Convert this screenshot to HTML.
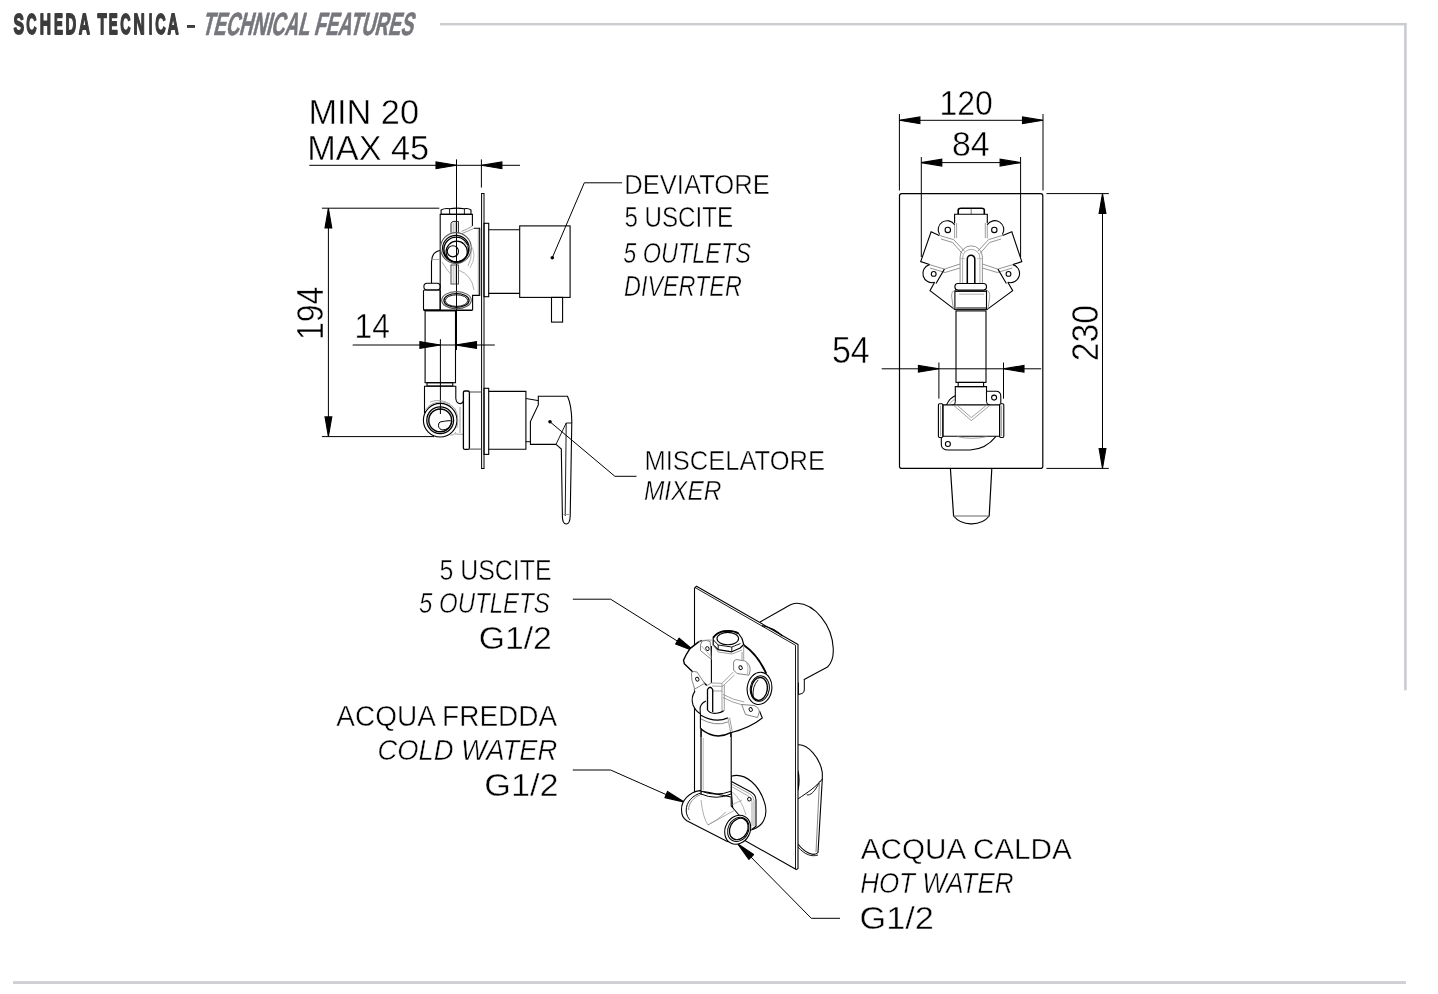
<!DOCTYPE html>
<html><head><meta charset="utf-8"><title>Scheda Tecnica</title>
<style>html,body{margin:0;padding:0;background:#fff;} svg{display:block;} svg{will-change:transform;}</style></head>
<body><svg width="1438" height="994" viewBox="0 0 1438 994" font-family="Liberation Sans, sans-serif">
<rect width="1438" height="994" fill="#fff"/>
<rect x="440" y="23" width="966.5" height="2.4" fill="#cbccd0"/>
<rect x="1404.1" y="23" width="2.6" height="667.3" fill="#cbccd0"/>
<rect x="13" y="981.1" width="1392.9" height="2.9" fill="#cfd0d4"/>
<rect x="187" y="25" width="8" height="2.9" fill="#3c3c3c"/>
<g fill="none" stroke="#000" stroke-width="1.1">
<line x1="309.3" y1="165.3" x2="520" y2="165.3" stroke="#000" stroke-width="1.0"/>
<path d="M456.5,165.3 L436.0,161.9 L436.0,168.7 Z" fill="#000"/>
<path d="M481.4,165.3 L501.9,168.7 L501.9,161.9 Z" fill="#000"/>
<line x1="456.5" y1="159.4" x2="456.5" y2="350" stroke="#000" stroke-width="1.0"/>
<line x1="481.4" y1="159.4" x2="481.4" y2="187.6" stroke="#000" stroke-width="1.0"/>
<line x1="328.4" y1="208.3" x2="328.4" y2="436.5" stroke="#000" stroke-width="1.0"/>
<path d="M328.4,208.3 L325.0,227.9 L331.8,227.9 Z" fill="#000"/>
<path d="M328.4,436.5 L331.8,416.9 L325.0,416.9 Z" fill="#000"/>
<line x1="321.9" y1="208.2" x2="439.3" y2="208.2" stroke="#000" stroke-width="1.0"/>
<line x1="321.9" y1="436.6" x2="434" y2="436.6" stroke="#000" stroke-width="1.0"/>
<line x1="352.7" y1="345" x2="494.8" y2="345" stroke="#000" stroke-width="1.0"/>
<path d="M440.4,345.0 L419.9,341.6 L419.9,348.4 Z" fill="#000"/>
<path d="M455.5,345.0 L476.5,348.4 L476.5,341.6 Z" fill="#000"/>
<line x1="440.4" y1="339.2" x2="440.4" y2="414" stroke="#000" stroke-width="1.0"/>
<rect x="481.6" y="193.5" width="2.4" height="275" stroke-width="1"/>
<path d="M441.1,214.4 L441.1,210 Q445,207.8 449.6,208.8 Q456.5,207.4 464.4,208.8 Q468,207.8 471,210 L471,214.4 Z"/>
<path d="M449.6,208.8 L449.6,214.4 M464.4,208.8 L464.4,214.4" stroke-width="0.9"/>
<path d="M440.2,310 L440.2,214.4 L472.4,214.4 L472.4,226"/>
<path d="M472.4,226 Q468,229 461.6,231.4 M474,228.3 Q466,232 462,233.5" stroke="#888" stroke-width="0.8"/>
<path d="M474,228.3 L479.7,228.3 L479.7,295.4 L472.6,295.4 L472.6,310"/>
<path d="M478.3,229 L478.3,295" stroke="#888" stroke-width="0.8"/>
<circle cx="455.9" cy="248" r="15.4" stroke="#555"/>
<circle cx="455.9" cy="248.6" r="13.3" stroke-width="1.2"/>
<circle cx="456.2" cy="249.4" r="12.3" stroke-width="1.3"/>
<circle cx="456.7" cy="251.8" r="10.6" stroke-width="1.2"/>
<circle cx="452.9" cy="251.3" r="5.6" stroke-width="1.1"/>
<path d="M464,242 Q476,250 468,266" stroke="#999" stroke-width="0.8"/>
<path d="M470,244 Q478,254 470,268" stroke="#aaa" stroke-width="0.8"/>
<path d="M451,232.6 L451,223.5 Q451.5,221.4 454,221.4 L458.4,221.4 L458.4,232.6" stroke="#222" stroke-width="1"/>
<path d="M453.2,223 L453.2,232 M455.2,222 L455.2,232" stroke="#999" stroke-width="0.8"/>
<rect x="451" y="265" width="7.4" height="19" stroke="#333" stroke-width="0.9"/>
<path d="M453.2,266 L453.2,283 M455.2,266 L455.2,283" stroke="#aaa" stroke-width="0.8"/>
<path d="M458.4,270 Q472,275 474,290" stroke="#999" stroke-width="0.8"/>
<path d="M442,262 Q448,272 451,274" stroke="#999" stroke-width="0.8"/>
<ellipse cx="456.5" cy="300.2" rx="14.8" ry="8.6" stroke="#555"/>
<ellipse cx="456.5" cy="300.4" rx="12.6" ry="6.9" stroke-width="1.2"/>
<ellipse cx="456.5" cy="300.6" rx="11.2" ry="5.8" stroke-width="0.9"/>
<path d="M440,250.5 Q431.5,252 431.5,262 L431.5,283.3"/>
<path d="M431.5,259.5 L440,259.5" stroke="#999" stroke-width="0.8"/>
<rect x="423.9" y="283.3" width="16.3" height="6.7" rx="3.2"/>
<rect x="423.5" y="290" width="16.7" height="20" rx="1"/>
<path d="M423.5,310.2 L472.6,310.2" stroke-width="1.4"/>
<rect x="425.1" y="310.9" width="30.4" height="71.8"/>
<rect x="427" y="382.7" width="25.8" height="3.3"/>
<path d="M424.5,413 L424.5,386.2 L455.8,386.2 L455.8,398.5 Q456.5,403.8 460.4,403.6 Q463.2,403.2 463.4,400.5"/>
<circle cx="440.2" cy="420.2" r="16.8"/>
<circle cx="440.2" cy="420.2" r="13.4" stroke-width="1.3"/>
<circle cx="440.2" cy="420.4" r="11.4" stroke-width="1.4"/>
<path d="M425,410 A19,19 0 0 1 456,410" stroke="#999" stroke-width="0.8"/>
<path d="M440,422 Q450,420 452,421 Q450,430 442,430 Q437,428 439,423 Z" stroke-width="1"/>
<path d="M430,402 Q440,398 450,404 M452,406 Q460,412 457,428 M456,432 Q454,436 450,435" stroke="#999" stroke-width="0.8"/>
<path d="M455,434 L463.4,434.4 M460,407 L460,433" stroke="#888" stroke-width="0.8"/>
<rect x="463.4" y="391" width="6" height="58.4" rx="1.5" stroke-width="1.3"/>
<path d="M469.4,392 L481.6,392 M469.4,449.1 L481.6,449.1" stroke="#444" stroke-width="1"/>
<rect x="484" y="223.3" width="4.7" height="73.4"/>
<path d="M488.7,229.8 L519.7,229.8 M488.7,293.4 L519.7,293.4"/>
<rect x="519.7" y="225.9" width="50.4" height="71.5"/>
<rect x="551.5" y="297.4" width="11.1" height="24.7"/>
<path d="M552.3,257.7 L584.3,182.8 L622,182.8" stroke-width="1"/>
<circle cx="552.3" cy="257.7" r="1.8" fill="#000" stroke="none"/>
<rect x="484" y="388.3" width="4.7" height="66.1"/>
<path d="M488.7,391.4 L525.9,391.4 L525.9,449.2 L488.7,449.2"/>
<path d="M525.9,398.5 L538.3,400.6 M525.9,441.7 L531,441.7" stroke-width="1"/>
<path d="M538.3,396.3 L567.5,396.3 Q571.5,405 571.8,421.5 L570.2,516 C570,521.5 568,524 566.3,524 C564.4,524 562.4,521.5 562.4,516 L561.3,449 Q558,446 556,444.4 L530.4,444.4 L530.4,421.5 L538.3,405 Z"/>
<path d="M556,444.4 L566.2,423 L571.8,423 M566.2,423 L565.2,516" stroke-width="0.9"/>
<path d="M563.5,514.5 L569,514.5" stroke="#888" stroke-width="0.8"/>
<path d="M550,421.8 L614.9,476.3 L636.5,476.3" stroke-width="1"/>
<circle cx="550" cy="421.8" r="1.8" fill="#000" stroke="none"/>
</g>
<g fill="none" stroke="#000" stroke-width="1.1">
<line x1="899.4" y1="120.3" x2="1043" y2="120.3" stroke="#000" stroke-width="1.0"/>
<path d="M899.4,120.3 L919.9,123.7 L919.9,116.9 Z" fill="#000"/>
<path d="M1043.0,120.3 L1022.5,116.9 L1022.5,123.7 Z" fill="#000"/>
<line x1="899.4" y1="114" x2="899.4" y2="190.5" stroke="#000" stroke-width="1.0"/>
<line x1="1043" y1="114" x2="1043" y2="190.5" stroke="#000" stroke-width="1.0"/>
<line x1="921.3" y1="162.6" x2="1020.6" y2="162.6" stroke="#000" stroke-width="1.0"/>
<path d="M921.3,162.6 L941.8,166.0 L941.8,159.2 Z" fill="#000"/>
<path d="M1020.6,162.6 L1000.1,159.2 L1000.1,166.0 Z" fill="#000"/>
<line x1="921.3" y1="157" x2="921.3" y2="257" stroke="#000" stroke-width="1.0"/>
<line x1="1020.6" y1="157" x2="1020.6" y2="257" stroke="#000" stroke-width="1.0"/>
<line x1="1102.5" y1="193.6" x2="1102.5" y2="468.3" stroke="#000" stroke-width="1.0"/>
<path d="M1102.5,193.6 L1099.1,213.4 L1105.9,213.4 Z" fill="#000"/>
<path d="M1102.5,468.3 L1105.9,448.5 L1099.1,448.5 Z" fill="#000"/>
<line x1="1046.5" y1="193.6" x2="1108.8" y2="193.6" stroke="#000" stroke-width="1.0"/>
<line x1="1046.5" y1="468.4" x2="1108.8" y2="468.4" stroke="#000" stroke-width="1.0"/>
<line x1="881.7" y1="368.8" x2="1041.2" y2="368.8" stroke="#000" stroke-width="1.0"/>
<path d="M938.9,368.8 L918.4,365.4 L918.4,372.2 Z" fill="#000"/>
<path d="M1003.5,368.8 L1024.0,372.2 L1024.0,365.4 Z" fill="#000"/>
<line x1="938.9" y1="362.5" x2="938.9" y2="398.7" stroke="#000" stroke-width="1.0"/>
<line x1="1003.5" y1="362.5" x2="1003.5" y2="398.7" stroke="#000" stroke-width="1.0"/>
<rect x="899.5" y="193.6" width="143.3" height="274.8" rx="2.2" stroke-width="1.2"/>
<path d="M950.4,468.5 L953.6,516 Q960,524 971.3,523.8 Q983,524 989.2,516 L991.8,468.5" stroke-width="1.2"/>
<path d="M953.6,516 L989.2,516" stroke="#666" stroke-width="1.2"/>
<path d="M958.2,214.2 L958.2,210 Q958.5,208.3 961,208.3 L981.5,208.3 Q984.3,208.3 984.3,210 L984.3,214.2" stroke-width="1.6"/>
<path d="M971.2,209 L971.2,214.2" stroke="#666" stroke-width="0.9"/>
<path d="M954.6,223 L954.6,214.2 L987.3,214.2 L987.3,223"/>
<path d="M954.6,223 L954.6,238.5 M956.6,223 L956.6,238 M987.3,223 L987.3,238.5 M985.3,223 L985.3,238" stroke="#888" stroke-width="0.8"/>
<path d="M939.6,234.5 A8.5,8.5 0 1 1 954.6,224.8" />
<path d="M987.3,224.8 A8.5,8.5 0 1 1 1002.4,234.5" />
<circle cx="947.8" cy="229.9" r="2.7"/>
<circle cx="994.3" cy="229.9" r="2.7"/>
<path d="M939.2,235.4 L931.1,231.8 L920.7,261.6 L929.5,264.6"/>
<path d="M1002.7,235.4 L1011.8,231.8 L1021.8,261.6 L1012.9,264.6"/>
<path d="M939.2,235.4 L953.6,239.6 L964.7,251.4 M941,239 L952.6,242.5 L962.3,253.5" stroke="#777" stroke-width="0.8"/>
<path d="M1002.7,235.4 L988.6,239.6 L977.7,251.4 M1001,239 L989.6,242.5 L980,253.5" stroke="#777" stroke-width="0.8"/>
<path d="M929.5,264.6 L944.4,269.1 L960,264 M930,268 L945,272.5 L960,268" stroke="#777" stroke-width="0.8"/>
<path d="M1012.9,264.6 L997.9,269.1 L982.4,264 M1012.4,268 L997.4,272.5 L982.4,268" stroke="#777" stroke-width="0.8"/>
<path d="M929.5,264.6 A8,8 0 0 0 934.6,282.3 M944.4,269.1 L936,283.5" />
<path d="M1012.9,264.6 A8,8 0 0 1 1007.8,282.3 M997.9,269.1 L1006.4,283.5" />
<circle cx="933.7" cy="273.9" r="2.4"/>
<circle cx="1008.5" cy="273.9" r="2.4"/>
<path d="M934.6,282.3 L930,290.7 L954.9,309.6"/>
<path d="M1007.8,282.3 L1012.7,290.7 L986.9,309.6"/>
<path d="M960.1,283.5 L960.1,257 A11.15,11.15 0 0 1 982.4,257 L982.4,283.5" stroke="#888" stroke-width="0.9"/>
<path d="M962.6,283.5 L962.6,258 A8.65,8.65 0 0 1 979.9,258 L979.9,283.5" stroke="#999" stroke-width="0.8"/>
<path d="M967.3,283.2 L967.3,259 A3.75,3.75 0 0 1 974.8,259 L974.8,283.2" stroke-width="1.5"/>
<path d="M960,258.6 L965,258.6 M977,258.6 L982.4,258.6" stroke="#aaa" stroke-width="0.7"/>
<rect x="954.9" y="283.5" width="31.6" height="6.6" rx="3"/>
<path d="M954.9,290 L954.9,309.6 M986.5,290 L986.5,309.6" />
<path d="M951.6,296 Q951.6,291 955,290.4 M989.8,296 Q989.8,291 986.5,290.4 M951.6,296 L953.4,309 M989.8,296 L988,309" stroke="#888" stroke-width="0.8"/>
<path d="M955,291.2 L986.5,291.2" stroke-width="1.4"/>
<path d="M959,294.2 L984,294.2" stroke="#999" stroke-width="0.8"/>
<path d="M954.9,309.6 L986.9,309.6 M956.2,308 L986,308" stroke-width="1"/>
<rect x="956" y="310.9" width="30" height="71.5"/>
<rect x="958.2" y="382.4" width="25.4" height="4.2"/>
<path d="M955.3,401.7 L955.3,386.6 L986.5,386.6 L986.5,401.7"/>
<path d="M955.3,401.7 Q955.6,404.9 952.5,404.9 M986.5,401.7 Q986.4,404.9 990.3,404.9" stroke-width="1"/>
<path d="M942.9,404.9 L999.6,404.9 L999.6,436.3 L942.9,436.3 Z"/>
<rect x="938.4" y="403.7" width="4.5" height="33.8" rx="1.2"/>
<rect x="999.6" y="403.7" width="4.2" height="33.8" rx="1.2"/>
<path d="M940.6,405.5 L940.6,436 M1001.6,405.5 L1001.6,436" stroke="#888" stroke-width="0.8"/>
<path d="M946.5,404.9 Q949.5,398 955.3,395.7" />
<path d="M949,404.6 Q951.5,400.5 955.3,399" stroke="#999" stroke-width="0.7"/>
<path d="M953.3,405 L971.3,420.6 L990.3,405 M956.5,404.8 L971.3,417.6 L987,404.8" stroke="#888" stroke-width="0.8"/>
<path d="M986.7,391.3 L996,391.3 Q1000.8,391.3 1000.8,396.5 L1000.8,403.7" />
<circle cx="994.1" cy="397.6" r="2.5"/>
<path d="M941.3,437.5 L941.3,444.4 Q941.5,450 948.5,450 L970.2,450 Q986,449 996,436.3" />
<path d="M957,436.6 Q972,440 987,436.6" stroke="#888" stroke-width="0.8"/>
<circle cx="947.9" cy="444" r="2.5"/>
</g>
<g fill="none" stroke="#000" stroke-width="1.1" stroke-linejoin="round">
<path d="M572.8,599.2 L610.6,599.2 L686,646.5" stroke-width="1"/>
<path d="M694.6,651.2 L679.1,638.1 L675.6,644.0 Z" fill="#000"/>
<path d="M572.8,770 L610.6,770 L675,798.5" stroke-width="1"/>
<path d="M684.6,802.3 L667.5,791.4 L664.9,797.6 Z" fill="#000"/>
<path d="M745,851 L811.3,918.3 L840,918.3" stroke-width="1"/>
<path d="M737.6,843.7 L748.9,859.4 L753.6,854.5 Z" fill="#000"/>
<path d="M760,622.1 L790,605 C792.5,603.7 795,603.2 797,603.3 C815,604 832,625 833.2,648 C833.8,657 831.5,663 827.5,667 L803.7,679.7" fill="#fff"/>
<path d="M798.4,682.5 L798.4,694.5 L802,693.5 Q804.3,692.5 804.3,690 L804.3,680" fill="#fff" stroke-width="1"/>
<path d="M797.9,744.8 C808,744 820,758 822.3,772.3 L822.3,779 L818,852.5 C814,857 805,853 797.9,844" fill="#fff"/>
<path d="M822.3,779 C815,788 808,792 797.9,799" stroke-width="1"/>
<path d="M820,781 C815,792 810,796 806.8,794.8" stroke-width="0.9"/>
<path d="M797.9,847 C805,855 812,857 818,855" stroke-width="0.9"/>
<path d="M819.5,781 L816,852" stroke="#666" stroke-width="0.8"/>
<path d="M797.9,771 Q800,780 797.9,790" stroke-width="1.4"/>
<path d="M694.5,812 L694.5,588.2 L696.5,586.2 L798,644.5 L798,868.5 L796.2,869.6 Z" fill="#fff" stroke-width="1.1"/>
<path d="M695,587.5 L795.5,645.3 L795.5,869" stroke-width="0.9"/>
<path d="M762,625.6 Q773,627.5 782.5,636" stroke-width="1.3"/>
<path d="M731.2,776.2 C745,772 760,785 765.2,805 C768,818 762,826 753.4,829.2 L735,835 L731.2,790 Z" fill="#fff"/>
<path d="M731.5,781.5 L751,792 Q756,795 756,800 L756,826.3 L752,829.2" stroke-width="1.1"/>
<path d="M731.5,784 L750,794 Q754,796.5 754,801 L754,826 M731.5,786.5 L749,796.5 Q752,798.5 752,802.5 L752,826" stroke="#888" stroke-width="0.75"/>
<path d="M732,792 Q741,798 746,815 M732,805 L742,800" stroke="#999" stroke-width="0.75"/>
<circle cx="749.3" cy="799.2" r="1.8" stroke-width="1"/>
<path d="M699.8,790.6 L731.2,797 L731.2,806 L745,822 L727.3,841.6 L686.8,820.7 C684,819 681.5,815 681.5,810 C681,800 690,792 699.8,790.6 Z" fill="#fff"/>
<path d="M701.5,792.8 C693,795 685.8,802 686.2,811 C686.5,815 688,818 690.2,820" stroke-width="1"/>
<path d="M700,795 C694,797 688.5,803 688.6,810" stroke="#777" stroke-width="0.8"/>
<path d="M701,800 Q703,818 708,825 L735,810 M708,825 Q718,820 726,812" stroke="#999" stroke-width="0.8"/>
<ellipse cx="737.7" cy="829.8" rx="12.4" ry="15" transform="rotate(28 737.7 829.8)" fill="#fff" stroke-width="1.1"/>
<ellipse cx="738.3" cy="829.4" rx="10.2" ry="12.6" transform="rotate(28 738.3 829.4)" stroke-width="1"/>
<ellipse cx="738.8" cy="829" rx="8.8" ry="11.2" transform="rotate(28 738.8 829)" stroke-width="1.2"/>
<rect x="701" y="730" width="30.2" height="61.2" fill="#fff" stroke="none"/>
<path d="M701,730 L701,791.2 M731.2,730 L731.2,791.2" stroke-width="1.1"/>
<path d="M703.2,738 L703.2,790.5" stroke="#999" stroke-width="0.7"/>
<path d="M701,791.2 Q716,797 731.2,791.2 M701,794 Q716,800.5 731.2,794 M701,791.2 L701,795 M731.2,791.2 L731.2,795" stroke-width="1"/>
<path d="M690,648.6 L698.6,641.9 Q703,639.8 711.7,640.1 L713.2,637.6 Q718,632 722.8,631.3 Q735,630 740.2,636 L743.7,645 Q758,655 766.3,673.7 L771.9,688 Q771,702 762.3,718 Q750,728 730.7,732.7 Q715.2,741 700.4,728.5 L700.4,713.7 Q690,706 693,699.6 Q693.5,693 694.8,691 L691.3,672.8 L684.3,663.7 L683.5,660.2 Q685.5,655 690,648.6 Z" fill="#fff" stroke="none"/>
<path d="M701.1,728 L701.1,737 M730.7,732 L730.7,737" stroke-width="1"/>
<path d="M702,640.5 L698.6,641.9 L690,648.6 Q685.5,655 683.5,660.2 L684.3,663.7 L706.8,685.5" stroke-width="1.4"/>
<path d="M698.6,641.9 Q703,639.8 711.7,640.1" stroke="#888" stroke-width="0.9"/>
<path d="M743.7,645 Q758,655 766.3,673.7" stroke-width="1.9"/>
<path d="M695.1,691.1 Q690.5,697 693,705 Q695.5,711 700.4,713.7" stroke-width="1.1"/>
<path d="M706,701 Q700,703.5 700.1,709.4 L700.4,715" stroke-width="1.1"/>
<path d="M700.4,715 Q715.2,723.5 727.9,717.9" stroke-width="1.2"/>
<path d="M700.4,718.7 Q715.2,727 727.9,722" stroke="#777" stroke-width="0.9"/>
<path d="M700.4,715 L700.4,728.5" stroke-width="1.1"/>
<path d="M727.9,717.9 L730.7,732.7 M729.6,717.5 L732.3,732.2" stroke="#888" stroke-width="0.8"/>
<path d="M700.4,728.5 Q715.2,741 730.7,732.7" stroke-width="1.5"/>
<path d="M730.7,732.7 Q750,728 762.3,718 L759.5,711" stroke-width="1.1"/>
<path d="M713.2,637.6 Q717,632.5 722.8,631.3 Q733,630 738.5,633.5 L742,638.5 L743.7,644.5 L740.2,648 L731.8,651.8 L718.2,649.6 L713.2,645 Z" fill="#fff" stroke-width="1.2"/>
<path d="M713.2,637.6 Q717,632.5 722.8,631.3 Q733,630 738.5,633.5" stroke-width="1.8"/>
<ellipse cx="727.8" cy="638.6" rx="10.8" ry="6.2" stroke-width="1.1"/>
<path d="M713.5,640 L718.2,645 L731.8,647 L740.5,643.5 M718.2,645 L718.2,649.6 M731.8,647 L731.8,651.8" stroke-width="0.9"/>
<path d="M713.2,645 L718.2,652 L732,654 L742,650" stroke="#888" stroke-width="0.8"/>
<path d="M711.4,646 L711.4,683" stroke-width="1.1"/>
<path d="M743.7,645 L743.7,660 M742,652 L742,661" stroke="#888" stroke-width="0.8"/>
<path d="M711.4,683 L722,683.3 L733.1,672.2 M712,686 L722.5,686.3 L734.5,675 M722,683.3 L722,712.5 M724.3,685 L724.3,711 M723,694.4 Q733,700 744.2,702 M723,697.5 Q733,703 743,705 M712.7,691 L722.3,691" stroke="#888" stroke-width="0.8"/>
<path d="M706.8,685.5 L711.4,683" stroke="#888" stroke-width="0.8"/>
<path d="M707.5,710 L707.5,689.5 Q710.1,685 712.7,689.5 L712.7,712.3" fill="#fff" stroke-width="1.3"/>
<path d="M707.5,710 Q710,714 716.6,713.2 Q721,712.8 723.7,710.8" stroke-width="1.1"/>
<path d="M702.1,641.1 Q706,639.5 710.2,641.6 L711.2,659.2 L700.6,650.7 Q699.5,644 702.1,641.1 Z" fill="#fff" stroke="#777" stroke-width="0.9"/>
<path d="M701.5,646 L710.5,656" stroke="#999" stroke-width="0.7"/>
<ellipse cx="707.4" cy="648.6" rx="1.6" ry="2" transform="rotate(-30 707.4 648.6)" stroke-width="0.9"/>
<path d="M733.6,662 Q734,659.6 737,659.6 L745,661 Q750.2,664 750.2,670 L749,675.2 L737,673.5 L733.6,670 Z" fill="#fff" stroke="#777" stroke-width="0.9"/>
<path d="M746.5,662 Q749,667 747.5,674" stroke="#999" stroke-width="0.7"/>
<ellipse cx="740.6" cy="667.7" rx="1.6" ry="2" transform="rotate(-30 740.6 667.7)" stroke-width="0.9"/>
<path d="M691.3,672.8 Q693,670.5 697,672 L704.6,683.4 L694.8,689 Q691,680 691.3,672.8 Z" fill="#fff" stroke="#777" stroke-width="0.9"/>
<ellipse cx="697.3" cy="679.2" rx="1.6" ry="2" transform="rotate(-30 697.3 679.2)" stroke-width="0.9"/>
<path d="M741.7,704.5 L754,705.5 Q759.3,707.5 759.3,712 L757.5,717.5 L745.5,714.5 Z" fill="#fff" stroke="#777" stroke-width="0.9"/>
<ellipse cx="750.7" cy="709.5" rx="1.6" ry="2" transform="rotate(-30 750.7 709.5)" stroke-width="0.9"/>
<ellipse cx="759.5" cy="688.4" rx="12.3" ry="16.2" transform="rotate(8 759.5 688.4)" fill="#fff" stroke-width="1.1"/>
<ellipse cx="759.8" cy="688.6" rx="9.5" ry="12.8" transform="rotate(8 759.8 688.6)" stroke-width="1"/>
<ellipse cx="759.3" cy="688.9" rx="8" ry="11.5" transform="rotate(8 759.3 688.9)" stroke-width="1.4"/>
<path d="M758.3,679.8 Q752,686 753.2,697.4" stroke-width="0.9"/>
</g>
<text transform="translate(308.39,124.48) scale(0.9639,1)" font-size="35.63" font-weight="normal" font-style="normal" fill="#000" stroke="#fff" stroke-width="0.45" vector-effect="non-scaling-stroke" stroke-linejoin="round">MIN 20</text>
<text transform="translate(307.28,160.17) scale(0.9575,1)" font-size="35.78" font-weight="normal" font-style="normal" fill="#000" stroke="#fff" stroke-width="0.45" vector-effect="non-scaling-stroke" stroke-linejoin="round">MAX 45</text>
<text transform="translate(624.15,193.73) scale(0.9023,1)" font-size="28.41" font-weight="normal" font-style="normal" fill="#000" stroke="#fff" stroke-width="0.45" vector-effect="non-scaling-stroke" stroke-linejoin="round">DEVIATORE</text>
<text transform="translate(624.44,227.19) scale(0.8411,1)" font-size="28.72" font-weight="normal" font-style="normal" fill="#000" stroke="#fff" stroke-width="0.45" vector-effect="non-scaling-stroke" stroke-linejoin="round">5 USCITE</text>
<text transform="translate(623.30,263.30) scale(0.7980,1)" font-size="29.36" font-weight="normal" font-style="italic" fill="#000" stroke="#fff" stroke-width="0.45" vector-effect="non-scaling-stroke" stroke-linejoin="round">5 OUTLETS</text>
<text transform="translate(624.00,295.80) scale(0.7953,1)" font-size="29.42" font-weight="normal" font-style="italic" fill="#000" stroke="#fff" stroke-width="0.45" vector-effect="non-scaling-stroke" stroke-linejoin="round">DIVERTER</text>
<text transform="translate(644.47,469.78) scale(0.9111,1)" font-size="28.03" font-weight="normal" font-style="normal" fill="#000" stroke="#fff" stroke-width="0.45" vector-effect="non-scaling-stroke" stroke-linejoin="round">MISCELATORE</text>
<text transform="translate(643.89,499.95) scale(0.8687,1)" font-size="28.19" font-weight="normal" font-style="italic" fill="#000" stroke="#fff" stroke-width="0.45" vector-effect="non-scaling-stroke" stroke-linejoin="round">MIXER</text>
<text transform="translate(322.96,340.01) rotate(-90) scale(0.8716,1)" font-size="36.68" font-weight="normal" font-style="normal" fill="#000" stroke="#fff" stroke-width="0.45" vector-effect="non-scaling-stroke" stroke-linejoin="round">194</text>
<text transform="translate(354.55,338.23) scale(0.9167,1)" font-size="34.56" font-weight="normal" font-style="normal" fill="#000" stroke="#fff" stroke-width="0.45" vector-effect="non-scaling-stroke" stroke-linejoin="round">14</text>
<text transform="translate(939.52,115.06) scale(0.9104,1)" font-size="35.12" font-weight="normal" font-style="normal" fill="#000" stroke="#fff" stroke-width="0.45" vector-effect="non-scaling-stroke" stroke-linejoin="round">120</text>
<text transform="translate(951.94,156.49) scale(0.9540,1)" font-size="35.49" font-weight="normal" font-style="normal" fill="#000" stroke="#fff" stroke-width="0.45" vector-effect="non-scaling-stroke" stroke-linejoin="round">84</text>
<text transform="translate(1097.76,361.19) rotate(-90) scale(0.9196,1)" font-size="36.68" font-weight="normal" font-style="normal" fill="#000" stroke="#fff" stroke-width="0.45" vector-effect="non-scaling-stroke" stroke-linejoin="round">230</text>
<text transform="translate(831.92,363.37) scale(0.9241,1)" font-size="36.80" font-weight="normal" font-style="normal" fill="#000" stroke="#fff" stroke-width="0.45" vector-effect="non-scaling-stroke" stroke-linejoin="round">54</text>
<text transform="translate(439.45,579.72) scale(0.8517,1)" font-size="29.25" font-weight="normal" font-style="normal" fill="#000" stroke="#fff" stroke-width="0.45" vector-effect="non-scaling-stroke" stroke-linejoin="round">5 USCITE</text>
<text transform="translate(418.98,613.14) scale(0.7909,1)" font-size="30.37" font-weight="normal" font-style="italic" fill="#000" stroke="#fff" stroke-width="0.45" vector-effect="non-scaling-stroke" stroke-linejoin="round">5 OUTLETS</text>
<text transform="translate(478.77,648.71) scale(1.0567,1)" font-size="31.90" font-weight="normal" font-style="normal" fill="#000" stroke="#fff" stroke-width="0.45" vector-effect="non-scaling-stroke" stroke-linejoin="round">G1/2</text>
<text transform="translate(336.25,725.85) scale(0.9610,1)" font-size="29.15" font-weight="normal" font-style="normal" fill="#000" stroke="#fff" stroke-width="0.45" vector-effect="non-scaling-stroke" stroke-linejoin="round">ACQUA FREDDA</text>
<text transform="translate(377.45,760.10) scale(0.9273,1)" font-size="29.51" font-weight="normal" font-style="italic" fill="#000" stroke="#fff" stroke-width="0.45" vector-effect="non-scaling-stroke" stroke-linejoin="round">COLD WATER</text>
<text transform="translate(484.31,795.68) scale(1.0926,1)" font-size="31.31" font-weight="normal" font-style="normal" fill="#000" stroke="#fff" stroke-width="0.45" vector-effect="non-scaling-stroke" stroke-linejoin="round">G1/2</text>
<text transform="translate(860.84,859.14) scale(0.9934,1)" font-size="29.86" font-weight="normal" font-style="normal" fill="#000" stroke="#fff" stroke-width="0.45" vector-effect="non-scaling-stroke" stroke-linejoin="round">ACQUA CALDA</text>
<text transform="translate(860.20,892.83) scale(0.8932,1)" font-size="29.05" font-weight="normal" font-style="italic" fill="#000" stroke="#fff" stroke-width="0.45" vector-effect="non-scaling-stroke" stroke-linejoin="round">HOT WATER</text>
<text transform="translate(859.49,928.94) scale(1.0785,1)" font-size="31.84" font-weight="normal" font-style="normal" fill="#000" stroke="#fff" stroke-width="0.45" vector-effect="non-scaling-stroke" stroke-linejoin="round">G1/2</text>
<text transform="translate(201.41,34.58) skewX(-14) scale(0.5783,1)" font-size="32.14" font-weight="bold" font-style="normal" fill="#76777c" stroke="#76777c" stroke-width="0.6" vector-effect="non-scaling-stroke" stroke-linejoin="round">TECHNICAL FEATURES</text>
<g fill="#3c3c3c" stroke="#3c3c3c" stroke-width="1.8" stroke-linejoin="round" style="vector-effect:non-scaling-stroke"><text transform="translate(13.54,34.10) scale(0.5216,1)" font-size="30.4" font-weight="bold">S</text><text transform="translate(26.31,34.10) scale(0.4729,1)" font-size="30.4" font-weight="bold">C</text><text transform="translate(39.85,34.10) scale(0.5148,1)" font-size="30.4" font-weight="bold">H</text><text transform="translate(54.09,34.10) scale(0.4456,1)" font-size="30.4" font-weight="bold">E</text><text transform="translate(65.61,34.10) scale(0.4881,1)" font-size="30.4" font-weight="bold">D</text><text transform="translate(78.71,34.10) scale(0.5099,1)" font-size="30.4" font-weight="bold">A</text><text transform="translate(97.53,34.10) scale(0.4972,1)" font-size="30.4" font-weight="bold">T</text><text transform="translate(108.69,34.10) scale(0.4456,1)" font-size="30.4" font-weight="bold">E</text><text transform="translate(120.31,34.10) scale(0.4729,1)" font-size="30.4" font-weight="bold">C</text><text transform="translate(133.55,34.10) scale(0.5148,1)" font-size="30.4" font-weight="bold">N</text><text transform="translate(148.82,34.10) scale(0.4339,1)" font-size="30.4" font-weight="bold">I</text><text transform="translate(155.30,34.10) scale(0.4780,1)" font-size="30.4" font-weight="bold">C</text><text transform="translate(167.41,34.10) scale(0.5099,1)" font-size="30.4" font-weight="bold">A</text></g>
</svg></body></html>
